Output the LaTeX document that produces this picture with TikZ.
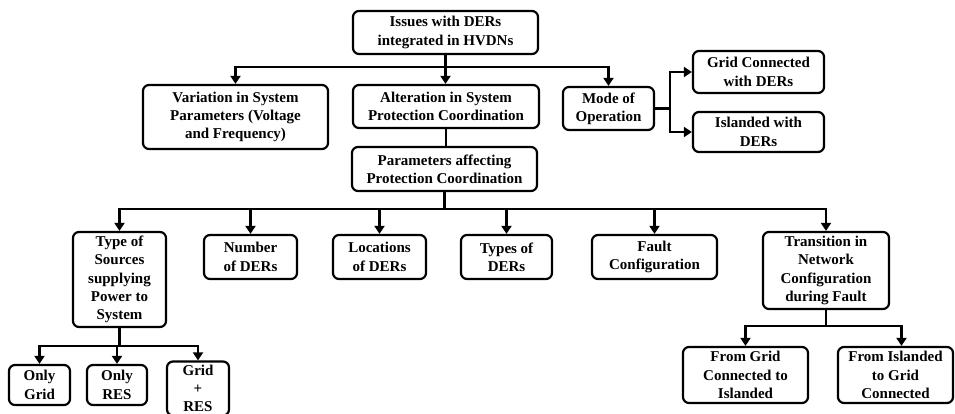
\documentclass[tikz,border=0pt]{standalone}
\usepackage{fontspec}
\setmainfont{Liberation Serif}
\usetikzlibrary{arrows.meta}
\begin{document}
\begin{tikzpicture}[x=1pt,y=-1pt,
 box/.style={draw, line width=2.2pt, rounded corners=6pt, align=center, inner sep=1pt, font=\bfseries\fontsize{15}{18.3}\selectfont},
 conn/.style={line width=2.8pt},
 arr/.style={conn, -{Triangle[length=8pt,width=10pt]}}]
\useasboundingbox (0,0) rectangle (955,414);
% level 0
\node[box, minimum width=185pt, minimum height=43pt] (top) at (445.5,32.5) {Issues with DERs\\integrated in HVDNs};
% level 1
\node[box, minimum width=185pt, minimum height=64pt] (var) at (235.5,117) {Variation in System\\Parameters (Voltage\\and Frequency)};
\node[box, minimum width=186pt, minimum height=43pt] (alt) at (446,106.5) {Alteration in System\\Protection Coordination};
\node[box, minimum width=91pt, minimum height=43pt] (mode) at (608.5,108.5) {Mode of\\Operation};
\node[box, minimum width=131pt, minimum height=42pt] (gc) at (758.5,72) {Grid Connected\\with DERs};
\node[box, minimum width=131pt, minimum height=40pt] (isl) at (758.5,132) {Islanded with\\DERs};
\node[box, minimum width=185pt, minimum height=44pt] (par) at (444.5,169) {Parameters affecting\\Protection Coordination};
% level 2
\node[box, minimum width=93pt, minimum height=95pt] (type) at (119.5,279.5) {Type of\\Sources\\supplying\\Power to\\System};
\node[box, minimum width=93pt, minimum height=44pt] (num) at (250.5,257) {Number\\of DERs};
\node[box, minimum width=93pt, minimum height=44pt] (loc) at (379.5,257) {Locations\\of DERs};
\node[box, minimum width=91pt, minimum height=44pt] (typd) at (506.5,257) {Types of\\DERs};
\node[box, minimum width=125pt, minimum height=44pt] (fault) at (654.5,257) {Fault\\Configuration};
\node[box, minimum width=126pt, minimum height=77pt] (trans) at (826,270.5) {Transition in\\Network\\Configuration\\during Fault};
% level 3
\node[box, minimum width=61pt, minimum height=40pt] (og) at (39.5,385) {Only\\Grid};
\node[box, minimum width=60pt, minimum height=40pt] (ores) at (117,385) {Only\\RES};
\node[box, minimum width=62pt, minimum height=54pt] (gr) at (198,388.5) {Grid\\+\\RES};
\node[box, minimum width=125pt, minimum height=56pt] (fg) at (745.5,375) {From Grid\\Connected to\\Islanded};
\node[box, minimum width=115pt, minimum height=56pt] (fi) at (895.5,375) {From Islanded\\to Grid\\Connected};
% connectors
\coordinate (b1) at (445.5,67);
\draw[conn] (top.south) -- (b1);
\draw[arr] (b1) -| (var.north);
\draw[arr] (b1) -- (b1 |- alt.north);
\draw[arr] (b1) -| (mode.north);
\coordinate (m1) at (670,108.5);
\draw[conn] (mode.east) -- (m1);
\draw[arr] (m1) |- (gc.west);
\draw[arr] (m1) |- (isl.west);
\draw[conn] (alt.south) -- (alt.south |- par.north);
\coordinate (b2) at (444.5,209);
\draw[conn] (par.south) -- (b2);
\draw[arr] (b2) -| (type.north);
\draw[arr] (b2) -| (num.north);
\draw[arr] (b2) -| (loc.north);
\draw[arr] (b2) -| (typd.north);
\draw[arr] (b2) -| (fault.north);
\draw[arr] (b2) -| (trans.north);
\coordinate (b3) at (119.5,346);
\draw[conn] (type.south) -- (b3);
\draw[arr] (b3) -| (og.north);
\draw[arr] (b3) -| (ores.north);
\draw[arr] (b3) -| (gr.north);
\coordinate (b4) at (826,326);
\coordinate (fitop) at ([xshift=6pt]fi.north);
\draw[conn] (trans.south) -- (b4);
\draw[arr] (b4) -| (fg.north);
\draw[arr] (b4) -| (fitop);
\end{tikzpicture}
\end{document}
